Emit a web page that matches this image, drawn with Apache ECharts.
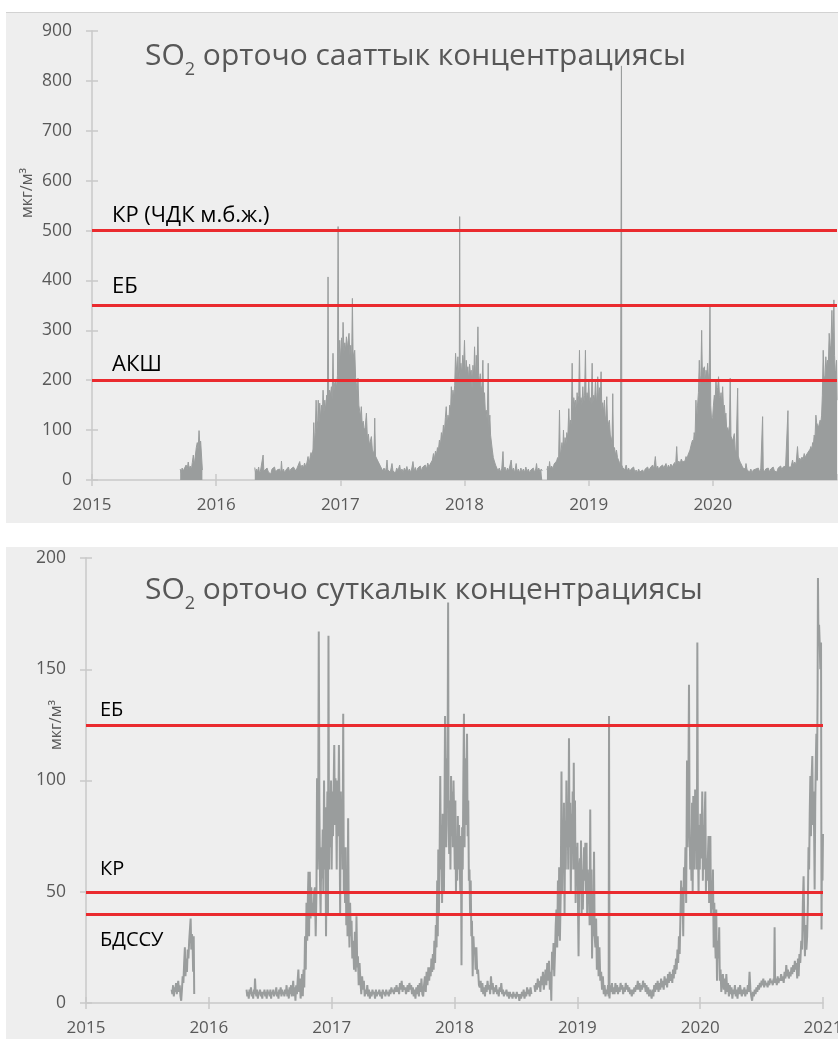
<!DOCTYPE html>
<html>
<head>
<meta charset="utf-8">
<script src="https://cdn.jsdelivr.net/npm/echarts@6/dist/echarts.min.js"></script>
<style>
    html, body { margin: 0; padding: 0; background: #fff; }
    .panel { position: absolute; left: 6px; width: 832px; background: #eeeeee; }
    #hourly { top: 12px; height: 510px; border-top: 1px solid #d2d2d2; }
    #daily { top: 547px; height: 492px; }
</style>
</head>
<body>
<div class="panel" id="hourly"></div>
<div class="panel" id="daily"></div>
<script>
    const years = [2015, 2021];
    const limitsHourly = [500, 350, 200];
    const limitLabelsHourly = ['КР (ЧДК м.б.ж.)', 'ЕБ', 'АКШ'];
    const limitsDaily = [125, 50, 40];
    const limitLabelsDaily = ['ЕБ', 'КР', 'БДССУ'];

    // hourly SO2, [decimal year, мкг/м3]
    const hourly2015 = [[2015.710,22],[2015.718,15],[2015.726,24],[2015.734,18],[2015.742,22],[2015.750,16],[2015.758,30],[2015.766,20],[2015.775,36],[2015.783,22],[2015.791,28],[2015.800,20],[2015.808,35],[2015.816,50],[2015.824,30],[2015.832,48],[2015.840,65],[2015.848,75],[2015.855,60],[2015.862,99],[2015.868,72],[2015.875,78],[2015.882,76],[2015.889,20]];
    const hourly2016 = [[2016.311,25],[2016.318,14],[2016.326,22],[2016.334,16],[2016.342,26],[2016.350,12],[2016.358,20],[2016.366,16],[2016.372,24],[2016.378,50],[2016.384,18],[2016.392,22],[2016.400,14],[2016.410,24],[2016.420,16],[2016.430,20],[2016.440,12],[2016.450,22],[2016.460,18],[2016.470,26],[2016.480,14],[2016.490,20],[2016.500,16],[2016.510,22],[2016.520,14],[2016.526,38],[2016.532,16],[2016.542,22],[2016.552,14],[2016.562,20],[2016.572,18],[2016.582,26],[2016.592,16],[2016.602,22],[2016.612,18],[2016.622,26],[2016.633,30],[2016.642,18],[2016.652,24],[2016.662,20],[2016.673,37],[2016.682,22],[2016.692,30],[2016.702,24],[2016.712,34],[2016.722,26],[2016.732,36],[2016.740,47],[2016.748,30]];
    const hourly2017w = [[2016.756,45],[2016.764,55],[2016.772,48],[2016.780,62],[2016.786,115],[2016.792,70],[2016.798,95],[2016.805,160],[2016.812,100],[2016.818,120],[2016.822,160],[2016.828,110],[2016.834,154],[2016.840,125],[2016.848,150],[2016.855,128],[2016.861,180],[2016.868,135],[2016.875,160],[2016.882,140],[2016.890,170],[2016.896,150],[2016.901,407],[2016.906,160],[2016.913,180],[2016.920,170],[2016.928,187],[2016.934,160],[2016.941,254],[2016.947,175],[2016.955,195],[2016.963,200],[2016.970,185],[2016.977,210],[2016.982,508],[2016.987,220],[2016.995,280],[2017.002,240],[2017.010,285],[2017.017,250],[2017.022,316],[2017.029,255],[2017.036,275],[2017.043,260],[2017.049,287],[2017.056,262],[2017.063,280],[2017.070,294],[2017.077,250],[2017.084,270],[2017.091,235],[2017.097,364],[2017.103,245],[2017.110,255],[2017.116,260],[2017.123,205],[2017.130,190],[2017.136,175],[2017.142,204],[2017.149,150],[2017.156,138],[2017.162,125],[2017.169,147],[2017.176,110],[2017.184,118],[2017.192,100],[2017.200,105],[2017.210,134],[2017.218,82],[2017.226,92],[2017.234,70],[2017.242,78],[2017.250,87],[2017.258,60],[2017.266,52],[2017.272,60],[2017.277,124],[2017.283,48],[2017.292,45],[2017.302,38],[2017.312,42],[2017.322,28]];
    const hourly2017s = [[2017.332,26],[2017.342,18],[2017.352,24],[2017.362,16],[2017.370,25],[2017.376,40],[2017.382,20],[2017.392,24],[2017.402,16],[2017.410,25],[2017.416,33],[2017.424,18],[2017.434,22],[2017.444,14],[2017.454,24],[2017.464,18],[2017.472,22],[2017.478,30],[2017.486,16],[2017.496,22],[2017.506,15],[2017.516,24],[2017.526,18],[2017.536,27],[2017.546,16],[2017.556,22],[2017.566,15],[2017.576,24],[2017.585,37],[2017.594,18],[2017.604,25],[2017.614,16],[2017.624,24],[2017.634,20],[2017.644,28],[2017.654,18],[2017.664,26],[2017.674,22],[2017.684,30],[2017.694,22],[2017.704,34],[2017.714,26],[2017.724,32],[2017.734,28],[2017.742,40]];
    const hourly2018w = [[2017.750,53],[2017.758,42],[2017.766,58],[2017.774,50],[2017.782,65],[2017.790,60],[2017.798,80],[2017.806,70],[2017.814,95],[2017.822,82],[2017.830,110],[2017.838,95],[2017.846,125],[2017.853,147],[2017.860,110],[2017.867,130],[2017.874,118],[2017.881,150],[2017.888,140],[2017.894,187],[2017.900,155],[2017.907,180],[2017.914,165],[2017.921,190],[2017.928,254],[2017.934,250],[2017.940,205],[2017.947,247],[2017.954,195],[2017.958,210],[2017.961,528],[2017.965,215],[2017.971,234],[2017.978,212],[2017.986,250],[2017.993,230],[2018.000,280],[2018.007,205],[2018.014,240],[2018.021,215],[2018.027,227],[2018.034,200],[2018.041,232],[2018.048,212],[2018.054,220],[2018.061,182],[2018.068,230],[2018.075,205],[2018.081,267],[2018.088,200],[2018.095,250],[2018.101,215],[2018.108,307],[2018.114,210],[2018.121,195],[2018.127,213],[2018.134,178],[2018.141,190],[2018.148,240],[2018.154,160],[2018.161,175],[2018.168,135],[2018.175,140],[2018.183,120],[2018.191,234],[2018.197,105],[2018.204,130],[2018.210,90],[2018.216,93],[2018.224,60],[2018.232,45],[2018.240,38],[2018.250,30],[2018.260,26]];
    const hourly2018s = [[2018.270,18],[2018.280,24],[2018.290,16],[2018.300,22],[2018.310,57],[2018.316,20],[2018.326,26],[2018.336,16],[2018.346,24],[2018.356,18],[2018.366,22],[2018.376,40],[2018.384,18],[2018.394,24],[2018.404,14],[2018.416,33],[2018.424,16],[2018.434,22],[2018.444,14],[2018.454,24],[2018.464,16],[2018.474,22],[2018.484,15],[2018.494,26],[2018.504,16],[2018.514,22],[2018.524,14],[2018.534,20],[2018.544,17],[2018.554,24],[2018.564,15],[2018.574,22],[2018.580,33],[2018.588,17],[2018.598,24],[2018.608,16],[2018.618,22],[2018.626,18]];
    const hourly2019w = [[2018.664,20],[2018.672,28],[2018.680,20],[2018.685,37],[2018.692,22],[2018.702,28],[2018.712,22],[2018.722,32],[2018.732,28],[2018.742,38],[2018.750,45],[2018.758,40],[2018.765,140],[2018.771,48],[2018.778,60],[2018.785,75],[2018.792,58],[2018.797,100],[2018.803,62],[2018.810,85],[2018.817,70],[2018.824,95],[2018.832,85],[2018.840,143],[2018.846,100],[2018.853,120],[2018.860,110],[2018.867,234],[2018.873,140],[2018.880,165],[2018.887,150],[2018.894,160],[2018.900,135],[2018.907,175],[2018.913,150],[2018.920,170],[2018.926,260],[2018.932,155],[2018.939,165],[2018.946,150],[2018.953,187],[2018.960,150],[2018.967,170],[2018.974,260],[2018.980,155],[2018.987,175],[2018.994,160],[2019.001,200],[2019.008,145],[2019.015,165],[2019.021,150],[2019.028,234],[2019.034,155],[2019.041,170],[2019.048,160],[2019.055,200],[2019.062,150],[2019.068,175],[2019.073,207],[2019.080,160],[2019.087,185],[2019.094,170],[2019.100,217],[2019.106,140],[2019.113,155],[2019.120,135],[2019.127,160],[2019.134,120],[2019.140,130],[2019.146,167],[2019.153,105],[2019.160,115],[2019.167,120],[2019.174,90],[2019.181,85],[2019.188,70],[2019.194,173],[2019.200,60],[2019.208,65],[2019.216,50],[2019.224,60],[2019.232,45],[2019.240,40],[2019.248,35],[2019.256,30],[2019.261,32],[2019.264,830],[2019.267,30],[2019.274,25],[2019.282,28],[2019.290,20],[2019.302,30]];
    const hourly2019s = [[2019.312,18],[2019.322,24],[2019.332,16],[2019.342,22],[2019.352,18],[2019.362,26],[2019.372,15],[2019.382,20],[2019.392,14],[2019.402,22],[2019.412,16],[2019.422,20],[2019.435,20],[2019.445,14],[2019.455,22],[2019.465,18],[2019.475,26],[2019.485,18],[2019.495,24],[2019.505,20],[2019.515,30],[2019.525,22],[2019.537,47],[2019.545,22],[2019.555,28],[2019.565,20],[2019.575,26],[2019.585,22],[2019.595,30],[2019.605,24],[2019.615,28],[2019.623,33],[2019.632,22],[2019.642,30],[2019.652,24],[2019.662,32],[2019.672,26],[2019.682,30],[2019.692,35],[2019.700,28],[2019.709,67],[2019.716,30],[2019.726,38],[2019.736,32],[2019.746,42],[2019.756,36],[2019.766,40],[2019.776,38],[2019.784,47],[2019.792,42],[2019.800,50],[2019.808,48],[2019.816,60],[2019.824,58],[2019.830,75],[2019.837,80]];
    const hourly2020w = [[2019.843,70],[2019.850,95],[2019.857,85],[2019.864,160],[2019.870,120],[2019.877,150],[2019.884,175],[2019.891,240],[2019.897,190],[2019.904,210],[2019.910,300],[2019.916,205],[2019.922,225],[2019.928,215],[2019.932,227],[2019.938,195],[2019.945,220],[2019.952,210],[2019.958,234],[2019.965,200],[2019.971,215],[2019.977,347],[2019.983,150],[2019.990,120],[2019.998,125],[2020.005,150],[2020.012,170],[2020.019,160],[2020.025,200],[2020.032,175],[2020.039,185],[2020.046,207],[2020.053,170],[2020.060,160],[2020.066,175],[2020.072,150],[2020.079,187],[2020.086,140],[2020.093,150],[2020.100,120],[2020.105,134],[2020.112,100],[2020.120,105],[2020.127,95],[2020.134,110],[2020.140,204],[2020.146,88],[2020.153,92],[2020.160,78],[2020.167,80],[2020.173,93],[2020.180,60],[2020.187,55],[2020.194,58],[2020.200,184],[2020.205,48],[2020.213,40],[2020.222,35],[2020.232,30],[2020.242,24],[2020.252,28],[2020.262,22],[2020.267,33],[2020.276,20]];
    const hourly2020s = [[2020.286,24],[2020.296,16],[2020.306,22],[2020.316,14],[2020.326,20],[2020.336,16],[2020.346,22],[2020.356,18],[2020.366,24],[2020.376,16],[2020.386,22],[2020.396,20],[2020.401,127],[2020.406,22],[2020.416,16],[2020.426,22],[2020.436,18],[2020.446,24],[2020.456,16],[2020.466,22],[2020.476,18],[2020.486,26],[2020.496,18],[2020.506,22],[2020.516,16],[2020.526,24],[2020.536,20],[2020.546,28],[2020.556,20],[2020.566,26],[2020.576,22],[2020.586,28],[2020.596,24],[2020.605,139],[2020.610,26],[2020.620,30],[2020.630,26],[2020.642,40],[2020.650,30],[2020.660,36],[2020.670,30],[2020.682,67],[2020.690,36],[2020.700,44],[2020.710,38],[2020.718,46],[2020.726,40],[2020.736,53],[2020.744,44],[2020.752,50],[2020.760,46],[2020.768,56],[2020.776,52],[2020.784,62],[2020.790,67],[2020.797,60],[2020.804,75],[2020.810,70],[2020.816,90],[2020.823,85],[2020.830,130],[2020.836,115],[2020.843,110],[2020.850,105],[2020.857,107],[2020.864,120],[2020.870,115],[2020.876,130],[2020.882,170],[2020.889,260],[2020.895,210],[2020.902,200],[2020.910,247],[2020.917,220],[2020.924,240],[2020.930,230],[2020.937,294],[2020.944,270],[2020.950,260],[2020.959,340],[2020.965,280],[2020.970,300],[2020.975,361],[2020.980,250],[2020.986,220],[2020.991,213],[2020.996,240],[2021.000,160]];

    // daily SO2, [decimal year, мкг/м3]
    const daily2015 = [[2015.697,6],[2015.703,4],[2015.709,8],[2015.715,3],[2015.721,7],[2015.727,5],[2015.733,9],[2015.739,4],[2015.745,7],[2015.751,10],[2015.757,5],[2015.763,8],[2015.769,3],[2015.775,1],[2015.781,6],[2015.787,12],[2015.793,9],[2015.799,18],[2015.805,25],[2015.810,12],[2015.816,20],[2015.822,14],[2015.828,24],[2015.834,20],[2015.840,28],[2015.846,33],[2015.852,38],[2015.857,24],[2015.862,31],[2015.867,29],[2015.872,14],[2015.877,30],[2015.881,4]];
    const daily2016 = [[2016.307,6],[2016.313,3],[2016.319,5],[2016.325,2],[2016.331,6],[2016.337,4],[2016.343,7],[2016.349,3],[2016.355,5],[2016.361,2],[2016.367,6],[2016.372,4],[2016.376,11],[2016.381,5],[2016.387,3],[2016.393,6],[2016.399,2],[2016.405,5],[2016.411,4],[2016.417,6],[2016.423,3],[2016.429,5],[2016.435,2],[2016.441,5],[2016.447,4],[2016.453,6],[2016.459,3],[2016.465,5],[2016.471,2],[2016.477,6],[2016.483,4],[2016.489,5],[2016.495,3],[2016.501,6],[2016.507,2],[2016.513,5],[2016.519,4],[2016.525,6],[2016.531,3],[2016.537,5],[2016.543,4],[2016.549,7],[2016.555,3],[2016.561,5],[2016.567,2],[2016.573,6],[2016.579,4],[2016.585,7],[2016.591,3],[2016.597,6],[2016.603,4],[2016.609,5],[2016.615,3],[2016.621,6],[2016.627,4],[2016.633,8],[2016.639,3],[2016.645,6],[2016.651,2],[2016.657,7],[2016.663,4],[2016.669,8],[2016.675,3],[2016.681,6],[2016.687,10],[2016.693,3],[2016.699,7],[2016.705,1],[2016.711,8],[2016.717,4],[2016.723,10],[2016.729,15],[2016.735,5],[2016.741,11],[2016.747,2],[2016.753,6],[2016.759,13],[2016.765,3],[2016.771,15],[2016.777,7],[2016.783,30],[2016.789,15],[2016.795,45],[2016.801,28],[2016.806,46],[2016.811,59],[2016.816,30],[2016.822,59],[2016.828,38]];
    const daily2017w = [[2016.834,52],[2016.840,40],[2016.846,45],[2016.852,39],[2016.858,50],[2016.864,52],[2016.870,30],[2016.876,49],[2016.881,101],[2016.886,60],[2016.890,75],[2016.895,167],[2016.900,90],[2016.905,55],[2016.910,40],[2016.916,70],[2016.921,56],[2016.927,78],[2016.932,50],[2016.938,100],[2016.943,60],[2016.949,88],[2016.954,30],[2016.960,70],[2016.965,95],[2016.970,40],[2016.974,165],[2016.979,60],[2016.984,94],[2016.989,70],[2016.995,100],[2017.000,60],[2017.006,95],[2017.011,75],[2017.017,100],[2017.021,116],[2017.026,80],[2017.031,101],[2017.036,90],[2017.041,60],[2017.046,100],[2017.051,75],[2017.055,90],[2017.059,116],[2017.064,85],[2017.069,40],[2017.074,95],[2017.079,75],[2017.084,90],[2017.089,60],[2017.094,130],[2017.099,50],[2017.104,65],[2017.109,45],[2017.114,70],[2017.119,35],[2017.124,60],[2017.129,30],[2017.134,83],[2017.139,40],[2017.145,25],[2017.150,45],[2017.156,30],[2017.162,37],[2017.168,20],[2017.175,28],[2017.182,15],[2017.189,32],[2017.196,14],[2017.202,39],[2017.208,16],[2017.214,21],[2017.220,8],[2017.227,18],[2017.234,10],[2017.241,4],[2017.248,12],[2017.255,6],[2017.262,10],[2017.269,3]];
    const daily2017s = [[2017.276,6],[2017.283,4],[2017.290,8],[2017.297,3],[2017.304,6],[2017.311,2],[2017.318,5],[2017.325,3],[2017.332,6],[2017.339,4],[2017.346,5],[2017.353,2],[2017.360,6],[2017.367,3],[2017.374,5],[2017.381,4],[2017.388,6],[2017.395,3],[2017.402,5],[2017.409,2],[2017.416,6],[2017.423,4],[2017.430,5],[2017.437,3],[2017.444,6],[2017.451,4],[2017.458,5],[2017.465,3],[2017.472,6],[2017.479,4],[2017.486,7],[2017.493,5],[2017.500,6],[2017.507,4],[2017.514,7],[2017.521,5],[2017.528,8],[2017.535,5],[2017.542,7],[2017.549,4],[2017.556,9],[2017.563,6],[2017.570,10],[2017.577,5],[2017.584,8],[2017.591,6],[2017.598,7],[2017.605,4],[2017.612,6],[2017.619,8],[2017.626,5],[2017.633,9],[2017.640,6],[2017.647,8],[2017.654,4],[2017.661,7],[2017.668,3],[2017.675,6],[2017.682,2],[2017.689,7],[2017.696,4],[2017.703,8],[2017.710,3],[2017.717,9],[2017.724,5],[2017.731,11],[2017.738,4],[2017.745,3],[2017.752,8],[2017.759,12],[2017.766,5],[2017.773,14],[2017.780,8],[2017.787,16],[2017.794,10],[2017.800,16],[2017.806,12],[2017.812,20],[2017.818,14],[2017.824,22],[2017.830,15],[2017.836,28],[2017.842,18],[2017.848,35],[2017.854,25]];
    const daily2018w = [[2017.859,55],[2017.864,30],[2017.868,69],[2017.873,40],[2017.878,60],[2017.884,102],[2017.889,60],[2017.894,80],[2017.899,45],[2017.904,85],[2017.909,70],[2017.914,49],[2017.919,90],[2017.923,129],[2017.928,100],[2017.933,70],[2017.938,110],[2017.943,90],[2017.948,180],[2017.952,80],[2017.957,67],[2017.962,91],[2017.967,60],[2017.972,102],[2017.977,75],[2017.982,95],[2017.987,70],[2017.992,100],[2017.997,84],[2018.002,60],[2018.007,91],[2018.012,50],[2018.017,75],[2018.022,55],[2018.027,84],[2018.032,60],[2018.037,80],[2018.042,65],[2018.047,50],[2018.052,75],[2018.057,17],[2018.062,79],[2018.067,60],[2018.072,100],[2018.077,130],[2018.082,70],[2018.087,110],[2018.092,80],[2018.097,100],[2018.102,121],[2018.107,75],[2018.112,91],[2018.117,55],[2018.122,60],[2018.127,40],[2018.132,55],[2018.137,30],[2018.142,37],[2018.148,12],[2018.154,30],[2018.160,22],[2018.166,25],[2018.172,15],[2018.178,25],[2018.185,13],[2018.192,15],[2018.199,8],[2018.206,7],[2018.213,10]];
    const daily2018s = [[2018.220,5],[2018.227,9],[2018.234,4],[2018.241,7],[2018.248,3],[2018.255,8],[2018.262,5],[2018.269,10],[2018.276,6],[2018.283,8],[2018.290,4],[2018.297,12],[2018.304,6],[2018.311,9],[2018.318,4],[2018.325,7],[2018.332,5],[2018.339,8],[2018.346,4],[2018.353,6],[2018.360,3],[2018.367,7],[2018.374,5],[2018.381,9],[2018.388,4],[2018.395,6],[2018.402,3],[2018.409,5],[2018.416,4],[2018.423,6],[2018.430,3],[2018.437,5],[2018.444,2],[2018.451,5],[2018.458,3],[2018.465,4],[2018.472,2],[2018.479,5],[2018.486,3],[2018.493,4],[2018.500,2],[2018.507,5],[2018.514,3],[2018.521,4],[2018.528,1],[2018.535,4],[2018.542,2],[2018.549,5],[2018.556,3],[2018.563,6],[2018.570,2],[2018.577,5],[2018.584,3],[2018.591,7],[2018.598,4],[2018.605,6],[2018.612,3],[2018.619,7],[2018.626,4]];
    const daily2019w = [[2018.650,8],[2018.657,5],[2018.664,9],[2018.671,6],[2018.678,11],[2018.685,7],[2018.692,10],[2018.699,5],[2018.706,12],[2018.713,8],[2018.720,14],[2018.727,6],[2018.734,10],[2018.741,15],[2018.748,8],[2018.755,18],[2018.762,10],[2018.769,19],[2018.776,6],[2018.782,14],[2018.788,1],[2018.794,23],[2018.800,15],[2018.806,27],[2018.812,12],[2018.818,22],[2018.824,35],[2018.830,42],[2018.836,25],[2018.842,55],[2018.847,30],[2018.852,61],[2018.858,28],[2018.865,50],[2018.871,104],[2018.876,50],[2018.881,75],[2018.886,64],[2018.891,90],[2018.896,40],[2018.901,82],[2018.906,60],[2018.911,100],[2018.916,70],[2018.921,86],[2018.926,60],[2018.932,119],[2018.937,70],[2018.942,90],[2018.947,49],[2018.952,85],[2018.957,70],[2018.962,95],[2018.967,60],[2018.971,108],[2018.976,60],[2018.981,91],[2018.986,45],[2018.991,70],[2018.996,55],[2019.001,72],[2019.006,40],[2019.010,21],[2019.016,60],[2019.021,65],[2019.026,50],[2019.030,73],[2019.035,40],[2019.040,60],[2019.045,42],[2019.050,60],[2019.055,70],[2019.060,55],[2019.065,72],[2019.070,50],[2019.075,72],[2019.080,40],[2019.085,60],[2019.090,48],[2019.095,55],[2019.100,35],[2019.105,87],[2019.110,35],[2019.115,60],[2019.120,20],[2019.125,45],[2019.130,30],[2019.136,68],[2019.141,30],[2019.147,25],[2019.153,38],[2019.159,15],[2019.166,30],[2019.173,12],[2019.180,25],[2019.187,10],[2019.194,14],[2019.201,6],[2019.208,12],[2019.215,4],[2019.222,8],[2019.229,3],[2019.236,6],[2019.243,4],[2019.250,8],[2019.255,3],[2019.258,129],[2019.262,2],[2019.268,8],[2019.275,5],[2019.282,9],[2019.289,4]];
    const daily2019s = [[2019.296,7],[2019.303,4],[2019.310,9],[2019.317,5],[2019.324,8],[2019.331,4],[2019.338,7],[2019.345,5],[2019.352,9],[2019.359,6],[2019.366,8],[2019.373,4],[2019.380,7],[2019.387,5],[2019.394,9],[2019.401,6],[2019.408,8],[2019.415,5],[2019.422,7],[2019.429,4],[2019.436,6],[2019.443,3],[2019.450,6],[2019.457,4],[2019.464,7],[2019.471,5],[2019.478,8],[2019.485,6],[2019.492,10],[2019.499,6],[2019.506,9],[2019.513,5],[2019.520,8],[2019.527,6],[2019.535,10],[2019.542,7],[2019.549,9],[2019.556,5],[2019.563,8],[2019.570,4],[2019.577,7],[2019.584,3],[2019.591,6],[2019.598,4],[2019.605,2],[2019.612,6],[2019.619,3],[2019.626,8],[2019.633,5],[2019.640,9],[2019.647,6],[2019.654,10],[2019.661,5],[2019.668,9],[2019.675,6],[2019.682,11],[2019.689,7],[2019.696,10],[2019.703,6],[2019.710,12],[2019.717,8],[2019.724,11],[2019.731,7],[2019.738,13],[2019.745,9],[2019.752,14],[2019.759,10],[2019.766,13],[2019.773,9],[2019.779,15],[2019.785,11],[2019.791,17],[2019.797,13],[2019.803,20],[2019.809,15],[2019.815,24],[2019.821,18],[2019.827,30],[2019.833,22],[2019.839,38],[2019.845,55]];
    const daily2020w = [[2019.850,40],[2019.856,52],[2019.862,30],[2019.868,61],[2019.874,50],[2019.880,70],[2019.886,45],[2019.893,109],[2019.898,70],[2019.903,90],[2019.909,143],[2019.914,80],[2019.919,60],[2019.924,73],[2019.929,55],[2019.934,90],[2019.939,50],[2019.944,93],[2019.949,75],[2019.954,60],[2019.959,96],[2019.964,70],[2019.969,85],[2019.973,60],[2019.977,162],[2019.982,70],[2019.987,49],[2019.992,80],[2019.997,60],[2020.002,85],[2020.007,65],[2020.012,72],[2020.017,95],[2020.022,55],[2020.027,80],[2020.032,60],[2020.037,85],[2020.042,95],[2020.047,50],[2020.052,65],[2020.057,55],[2020.063,55],[2020.068,75],[2020.073,45],[2020.078,70],[2020.083,75],[2020.088,40],[2020.094,55],[2020.099,42],[2020.104,60],[2020.110,25],[2020.115,45],[2020.121,30],[2020.126,20],[2020.131,42],[2020.137,10],[2020.143,28],[2020.149,20],[2020.155,34],[2020.160,10],[2020.166,15],[2020.172,5],[2020.178,10],[2020.185,13],[2020.192,6],[2020.199,11],[2020.206,4],[2020.213,13],[2020.220,5],[2020.227,9],[2020.234,3],[2020.241,8],[2020.248,4],[2020.255,7],[2020.262,2],[2020.269,6]];
    const daily2020s = [[2020.276,4],[2020.283,8],[2020.290,3],[2020.297,6],[2020.304,2],[2020.311,7],[2020.318,4],[2020.325,8],[2020.332,5],[2020.339,3],[2020.346,6],[2020.353,4],[2020.360,7],[2020.367,3],[2020.374,6],[2020.381,4],[2020.388,8],[2020.395,5],[2020.402,14],[2020.409,6],[2020.416,3],[2020.423,1],[2020.430,5],[2020.437,3],[2020.444,6],[2020.451,4],[2020.458,7],[2020.465,5],[2020.472,8],[2020.479,6],[2020.486,9],[2020.493,7],[2020.500,10],[2020.507,8],[2020.514,11],[2020.521,7],[2020.528,10],[2020.535,8],[2020.542,9],[2020.549,7],[2020.556,10],[2020.563,8],[2020.570,11],[2020.577,9],[2020.584,10],[2020.591,8],[2020.598,11],[2020.602,9],[2020.606,34],[2020.610,9],[2020.617,11],[2020.624,8],[2020.631,12],[2020.638,9],[2020.645,11],[2020.652,10],[2020.659,13],[2020.666,10],[2020.673,12],[2020.680,9],[2020.687,14],[2020.694,11],[2020.701,17],[2020.708,12],[2020.715,15],[2020.722,11],[2020.729,14],[2020.736,12],[2020.743,16],[2020.750,13],[2020.757,17],[2020.764,14],[2020.771,19],[2020.778,15],[2020.784,18],[2020.790,11],[2020.796,20],[2020.802,12],[2020.808,22],[2020.815,18],[2020.823,28],[2020.830,24],[2020.836,45],[2020.842,57],[2020.848,35],[2020.853,21],[2020.859,35],[2020.865,24],[2020.871,30],[2020.877,45],[2020.882,70],[2020.887,60],[2020.892,85],[2020.897,102],[2020.902,75],[2020.907,100],[2020.913,111],[2020.918,80],[2020.923,95],[2020.928,75],[2020.932,51],[2020.937,90],[2020.942,110],[2020.946,121],[2020.951,100],[2020.956,140],[2020.959,191],[2020.963,162],[2020.968,170],[2020.973,162],[2020.978,150],[2020.984,162],[2020.988,33],[2020.992,76],[2020.996,55],[2021.000,76]];

    const hourlySegments = [
        hourly2015,
        [...hourly2016, ...hourly2017w, ...hourly2017s, ...hourly2018w, ...hourly2018s],
        [...hourly2019w, ...hourly2019s, ...hourly2020w, ...hourly2020s]
    ];
    const dailySegments = [
        daily2015,
        [...daily2016, ...daily2017w, ...daily2017s, ...daily2018w, ...daily2018s],
        [...daily2019w, ...daily2019s, ...daily2020w, ...daily2020s]
    ];

    const font = "'Open Sans', sans-serif";
    const gray = '#9a9d9d';
    const red = '#ea2a2e';
    const axisColor = '#c9c9c9';
    const labelColor = '#595959';

    const setupChart = (el, c) => {
        const chart = echarts.init(el);
        const series = c.segments.map((seg, i) => ({
            type: 'line',
            data: seg,
            symbol: 'none',
            lineStyle: { color: gray, width: c.lineWidth },
            areaStyle: c.area ? { color: gray, opacity: 1 } : null,
            animation: false,
            markLine: i > 0 ? undefined : {
                silent: true,
                symbol: 'none',
                animation: false,
                lineStyle: { color: red, width: 3, type: 'solid' },
                label: {
                    position: 'insideStartTop',
                    color: '#000',
                    fontFamily: font,
                    fontSize: c.limitFont
                },
                data: c.limits.map((v, k) => ({
                    yAxis: v,
                    label: {
                        formatter: c.limitLabels[k],
                        position: c.limitPos[k],
                        distance: c.limitDist[k]
                    }
                }))
            }
        }));
        // second pair of axes only draws the inner half of the crossing ticks
        const tickOnly = {
            axisLine: { show: false },
            axisLabel: { show: false },
            splitLine: { show: false },
            axisTick: { show: true, inside: true, length: 6, lineStyle: { color: axisColor, width: 1.5 } }
        };
        chart.setOption({
            backgroundColor: '#eeeeee',
            title: {
                text: '{t|SO}{s|2}{t| ' + c.title + '}',
                left: 134,
                top: c.titleTop,
                textStyle: {
                    rich: {
                        t: { fontFamily: font, fontSize: 30, fontWeight: 'normal', color: '#575757' },
                        s: { fontFamily: font, fontSize: 18, fontWeight: 'normal', color: '#575757', padding: [27, 0, 0, 0] }
                    }
                }
            },
            grid: Object.assign({ outerBoundsMode: 'none' }, c.grid),
            xAxis: [{
                type: 'value',
                min: years[0],
                max: years[1],
                interval: 1,
                splitLine: { show: false },
                axisLine: { onZero: false, lineStyle: { color: axisColor, width: 1.5 } },
                axisTick: { length: 6, lineStyle: { color: axisColor, width: 1.5 } },
                axisLabel: {
                    color: labelColor,
                    fontFamily: font,
                    fontSize: 17,
                    margin: 17,
                    showMaxLabel: c.showLastYear,
                    formatter: v => String(v)
                }
            }, Object.assign({
                type: 'value', position: 'bottom', min: years[0], max: years[1], interval: 1
            }, tickOnly)],
            yAxis: [{
                type: 'value',
                min: 0,
                max: c.yMax,
                interval: c.yStep,
                splitLine: { show: false },
                axisLine: { show: true, lineStyle: { color: axisColor, width: 1.5 } },
                axisTick: { show: true, length: 6, lineStyle: { color: axisColor, width: 1.5 } },
                axisLabel: { color: labelColor, fontFamily: font, fontSize: 17.5, margin: 20 }
            }, Object.assign({
                type: 'value', position: 'left', min: 0, max: c.yMax, interval: c.yStep
            }, tickOnly)],
            graphic: [{
                type: 'text',
                x: c.unitPos[0],
                y: c.unitPos[1],
                rotation: Math.PI / 2,
                style: {
                    text: 'мкг/м³',
                    fill: labelColor,
                    fontFamily: font,
                    fontSize: 16,
                    align: 'center',
                    verticalAlign: 'middle'
                }
            }],
            series: series
        });
        return chart;
    };

    setupChart(document.getElementById('hourly'), {
        title: 'орточо сааттык концентрациясы',
        titleTop: 16,
        segments: hourlySegments,
        area: true,
        lineWidth: 1,
        yMax: 900,
        yStep: 100,
        grid: { left: 86, right: 1, top: 18, bottom: 43 },
        showLastYear: false,
        limits: limitsHourly,
        limitLabels: limitLabelsHourly,
        limitPos: ['insideStartTop', 'insideStartTop', 'insideStartTop'],
        limitDist: [[20, 4], [20, 8], [20, 4]],
        limitFont: 22,
        unitPos: [21, 180]
    });

    setupChart(document.getElementById('daily'), {
        title: 'орточо суткалык концентрациясы',
        titleTop: 16,
        segments: dailySegments,
        area: false,
        lineWidth: 2,
        yMax: 200,
        yStep: 50,
        grid: { left: 80, right: 15, top: 11, bottom: 36 },
        showLastYear: true,
        limits: limitsDaily,
        limitLabels: limitLabelsDaily,
        limitPos: ['insideStartTop', 'insideStartTop', 'insideStartBottom'],
        limitDist: [[14, 5], [14, 12], [14, 16]],
        limitFont: 20,
        unitPos: [50, 178]
    });
</script>
</body>
</html>
